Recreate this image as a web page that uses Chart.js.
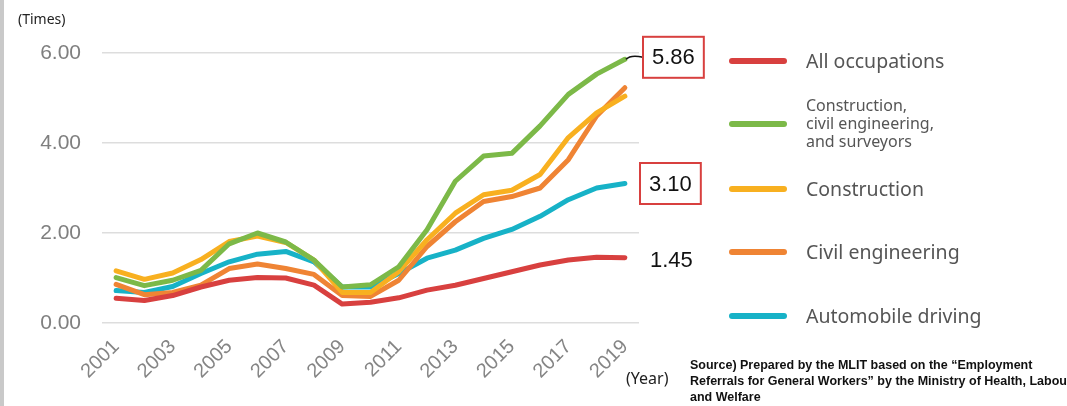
<!DOCTYPE html>
<html>
<head>
<meta charset="utf-8">
<script src="https://cdn.jsdelivr.net/npm/chart.js@4.4.1/dist/chart.umd.min.js"></script>
<style>
  body { margin: 0; background: #fff; }
  #wrap { position: relative; width: 1067px; height: 406px; overflow: hidden; font-family: "Noto Sans", "Liberation Sans", sans-serif; }
  #wrap canvas { position: absolute; left: 0; top: 0; }
  .bar { position: absolute; left: 0; top: 0; width: 4px; height: 406px; background: #c9c9c9; }
  .note { position: absolute; color: #222; white-space: nowrap; }
  .leg { position: absolute; left: 729px; width: 58px; height: 6px; border-radius: 3px; }
  .legtxt { position: absolute; left: 806px; color: #555; font-size: 19.5px; white-space: nowrap; }
  .src { position: absolute; left: 690px; top: 357px; font: bold 12.5px "Liberation Sans", sans-serif; line-height: 16px; color: #111; white-space: nowrap; }
</style>
</head>
<body>
<div id="wrap">
  <canvas id="c" width="1067" height="406"></canvas>
  <div class="bar"></div>
  <div class="note" style="left:18px; top:9px; font-size:14px;">(Times)</div>
  <div class="note" style="left:626px; top:367px; font-size:16px;">(Year)</div>
  <div class="src">Source) Prepared by the MLIT based on the “Employment<br>Referrals for General Workers” by the Ministry of Health, Labour<br>and Welfare</div>
  <div id="legend"></div>
</div>
<script>
const years = ['2001','2002','2003','2004','2005','2006','2007','2008','2009','2010',
               '2011','2012','2013','2014','2015','2016','2017','2018','2019'];
const yTicks = [0, 2, 4, 6];

const allOccupations = [0.55,0.50,0.61,0.80,0.95,1.01,1.00,0.84,0.42,0.46,0.56,0.73,0.84,0.99,1.14,1.29,1.40,1.46,1.45];
const constructionCivilSurveyors = [1.01,0.83,0.95,1.17,1.76,2.00,1.80,1.40,0.80,0.85,1.25,2.07,3.15,3.71,3.77,4.38,5.08,5.53,5.86];
const construction = [1.16,0.97,1.11,1.41,1.81,1.93,1.79,1.40,0.68,0.68,1.14,1.85,2.44,2.85,2.95,3.30,4.12,4.67,5.04];
const civilEngineering = [0.86,0.63,0.68,0.84,1.21,1.31,1.21,1.08,0.61,0.59,0.95,1.70,2.25,2.70,2.81,3.00,3.63,4.60,5.23];
const automobileDriving = [0.72,0.68,0.81,1.10,1.36,1.53,1.59,1.36,0.80,0.80,1.10,1.44,1.62,1.88,2.08,2.37,2.74,3.00,3.10];

const seriesNames = ['All occupations', 'Construction,\ncivil engineering,\nand surveyors', 'Construction', 'Civil engineering', 'Automobile driving'];
const seriesColors = ['#d8403f', '#7cb948', '#f8b020', '#ef8434', '#17b2c7'];
const seriesData = [allOccupations, constructionCivilSurveyors, construction, civilEngineering, automobileDriving];

// legend, drawn as html
const legendTops = [61, 124, 189, 252, 316];
const legend = document.getElementById('legend');
seriesNames.forEach((name, i) => {
    const sw = document.createElement('div');
    sw.className = 'leg';
    sw.style.top = (legendTops[i] - 3) + 'px';
    sw.style.background = seriesColors[i];
    legend.appendChild(sw);
    const t = document.createElement('div');
    t.className = 'legtxt';
    const lines = name.split('\n');
    if (lines.length > 1) {
        t.style.fontSize = '16px';
        t.style.lineHeight = '18px';
        t.style.top = (legendTops[i] - 28) + 'px';
        t.innerHTML = lines.join('<br>');
    } else {
        t.style.top = (legendTops[i] - 14) + 'px';
        t.textContent = name;
    }
    legend.appendChild(t);
});

// end-of-line value labels (5.86 / 3.10 boxed, 1.45 plain)
const endLabels = {
    id: 'endLabels',
    afterDatasetsDraw(chart) {
        const ctx = chart.ctx;
        const y = chart.scales.y;
        const right = chart.chartArea.right;
        const items = [
            { ds: 1, box: true, dx: 4 },
            { ds: 4, box: true, dx: 1 },
            { ds: 0, box: false, dx: 11 }
        ];
        ctx.save();
        items.forEach(it => {
            const arr = seriesData[it.ds];
            const v = arr[arr.length - 1];
            const py = y.getPixelForValue(v);
            const txt = v.toFixed(2);
            ctx.font = '500 22px "Liberation Sans", sans-serif';
            const w = ctx.measureText(txt).width;
            const bx = right + it.dx;
            if (it.box) {
                const bw = w + 18, bh = 41;
                const by = py - bh / 2 - (it.ds === 1 ? 2 : 0);
                if (it.ds === 1) {
                    const pt = chart.getDatasetMeta(1).data[arr.length - 1];
                    ctx.strokeStyle = '#111';
                    ctx.lineWidth = 1.5;
                    ctx.beginPath();
                    ctx.moveTo(pt.x + 1, pt.y);
                    ctx.quadraticCurveTo(pt.x + 6, by + bh / 2 - 3, bx, by + bh / 2);
                    ctx.stroke();
                }
                ctx.fillStyle = '#fff';
                ctx.fillRect(bx, by, bw, bh);
                ctx.strokeStyle = '#d8403f';
                ctx.lineWidth = 2;
                ctx.strokeRect(bx, by, bw, bh);
                ctx.fillStyle = '#111';
                ctx.textBaseline = 'middle';
                ctx.fillText(txt, bx + 9, by + bh / 2 + 1);
            } else {
                ctx.fillStyle = '#111';
                ctx.textBaseline = 'middle';
                ctx.fillText(txt, bx, py + 3);
            }
        });
        ctx.restore();
    }
};

new Chart(document.getElementById('c'), {
    type: 'line',
    data: {
        labels: years,
        datasets: seriesData.map((d, i) => ({
            label: seriesNames[i],
            data: d,
            borderColor: seriesColors[i],
            backgroundColor: seriesColors[i],
            borderWidth: 5,
            pointRadius: 0,
            tension: 0,
            borderJoinStyle: 'round',
            borderCapStyle: 'round'
        }))
    },
    options: {
        responsive: false,
        animation: false,
        layout: { padding: { left: 0, right: 428, top: 53, bottom: 0 } },
        plugins: { legend: { display: false }, tooltip: { enabled: false } },
        scales: {
            x: {
                offset: true,
                grid: { display: false },
                border: { display: false },
                ticks: {
                    autoSkip: false,
                    maxRotation: 45,
                    minRotation: 45,
                    padding: 4,
                    color: '#858585',
                    font: { family: '"Liberation Sans", sans-serif', size: 20 },
                    callback: function (val, idx) { return idx % 2 === 0 ? this.getLabelForValue(val) : ''; }
                },
                afterFit: s => { s.height = 83; }
            },
            y: {
                min: 0,
                max: 6,
                afterBuildTicks: s => { s.ticks = yTicks.map(v => ({ value: v })); },
                grid: { color: '#dddddd', lineWidth: 1.5, drawTicks: false },
                border: { display: false },
                ticks: {
                    padding: 21,
                    color: '#7f7f7f',
                    font: { family: '"Liberation Sans", sans-serif', size: 21 },
                    callback: v => v.toFixed(2)
                },
                afterFit: s => { s.width = 102; }
            }
        }
    },
    plugins: [endLabels]
});
</script>
</body>
</html>
